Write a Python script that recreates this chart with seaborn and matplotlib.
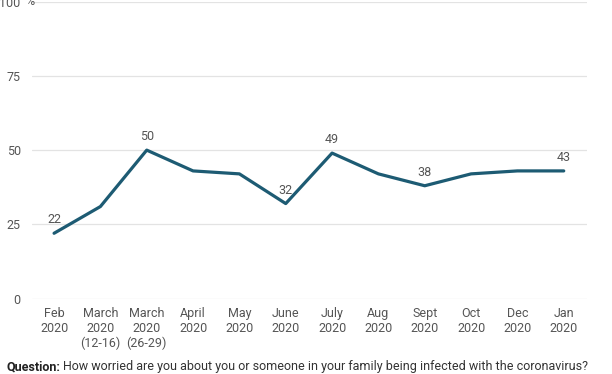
import matplotlib
matplotlib.use("Agg")
import numpy as np
import pandas as pd
import seaborn as sns
import matplotlib.pyplot as plt

# survey waves and share of people worried (%)
waves = ["Feb\n2020", "March\n2020\n(12-16)", "March\n2020\n(26-29)", "April\n2020",
         "May\n2020", "June\n2020", "July\n2020", "Aug\n2020", "Sept\n2020",
         "Oct\n2020", "Dec\n2020", "Jan\n2020"]
worried = [22, 31, 50, 43, 42, 32, 49, 42, 38, 42, 43, 43]
labelled = [0, 2, 5, 6, 8, 11]  # points that carry a value label
y_ticks = [0, 25, 50, 75, 100]

df = pd.DataFrame({"wave": waves, "worried": worried})

sns.set_style("white")
plt.rcParams['font.family'] = ['Roboto', 'DejaVu Sans']

fig = plt.figure(figsize=(6.12, 3.74), dpi=100)
ax = fig.add_axes([0.052, 0.2016, 0.907, 0.794])

sns.lineplot(data=df, x="wave", y="worried", ax=ax, color="#1d5b73",
             linewidth=2.3, sort=False)

for i in labelled:
    ax.annotate(str(worried[i]), (i, worried[i]), xytext=(0, 5),
                textcoords="offset points", ha="center", va="bottom",
                fontsize=9, color="#555555")

ax.set_ylim(0, 100)
ax.set_xlim(-0.48, 11.5)
ax.set_yticks(y_ticks)
ax.set_yticklabels([str(t) for t in y_ticks])
ax.yaxis.grid(True, color="#e3e3e3", linewidth=0.9)
ax.set_axisbelow(True)
sns.despine(ax=ax, left=True, bottom=True)
ax.tick_params(axis="both", length=0, labelsize=9, labelcolor="#555555")
ax.tick_params(axis="y", pad=8)
ax.tick_params(axis="x", pad=6)
ax.set_xlabel("")
ax.set_ylabel("")

fig.text(0.041, 0.996, "%", fontsize=9, color="#555555", ha="left", va="center")

# footnote: bold lead-in, then the question
q1 = fig.text(0.010, 0.019, "Question:", fontsize=9, fontweight="bold", color="#222222",
              ha="left", va="center")
fig.canvas.draw()
bb = q1.get_window_extent()
fig.text((bb.x1 + 3) / fig.bbox.width, 0.019,
         "How worried are you about you or someone in your family being infected with the coronavirus?",
         fontsize=9, color="#333333", ha="left", va="center")

fig.savefig("out.png", dpi=100)
